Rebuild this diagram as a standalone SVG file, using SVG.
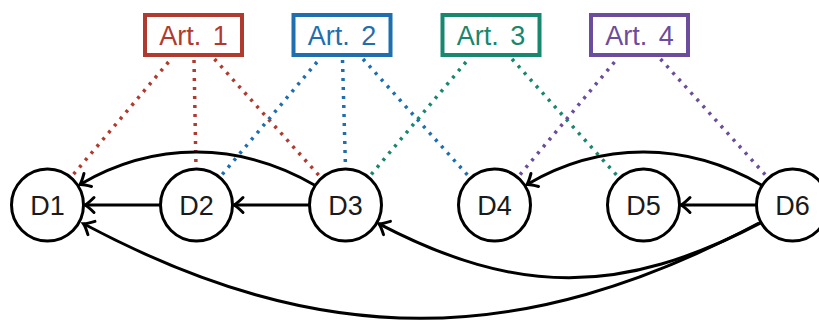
<svg xmlns="http://www.w3.org/2000/svg" width="819" height="320" viewBox="0 0 819 320">
<style>
.node circle{fill:#fff;stroke:#000;stroke-width:3}
.node text{font-family:"Liberation Sans",Arial,sans-serif;font-size:27px;fill:#1a1a1a;text-anchor:middle}
.art rect{fill:#fff;stroke-width:4}
.art text{font-family:"Liberation Sans",Arial,sans-serif;font-size:27px;text-anchor:middle;word-spacing:4px}
.dot{fill:none;stroke-width:3.5;stroke-dasharray:3 6}
.arr{fill:none;stroke:#000;stroke-width:3;marker-end:url(#ah)}
.red{stroke:#b03a2e}.blue{stroke:#1f6eaf}.teal{stroke:#17876d}.purple{stroke:#6c4c9c}
</style>
<defs>
<marker id="ah" markerUnits="userSpaceOnUse" markerWidth="20" markerHeight="20" viewBox="-12 -10 14 20" refX="0" refY="0" orient="auto" overflow="visible">
<path d="M-9,-7.5 Q-3,-1.5 0,0 Q-3,1.5 -9,7.5" fill="none" stroke="#000" stroke-width="3" stroke-linecap="round"/>
</marker>
</defs>
<g id="connectors">
<line class="dot red" x1="168.5" y1="62" x2="71.4" y2="176.8"/>
<line class="dot red" x1="194" y1="60" x2="196" y2="168"/>
<line class="dot red" x1="214.5" y1="59" x2="320.8" y2="177.5"/>
<line class="dot blue" x1="317" y1="62" x2="220.3" y2="176.7"/>
<line class="dot blue" x1="342.5" y1="60" x2="345.5" y2="168"/>
<line class="dot blue" x1="363" y1="59" x2="469.7" y2="177.5"/>
<line class="dot teal" x1="466" y1="62" x2="369.3" y2="176.7"/>
<line class="dot teal" x1="512" y1="59" x2="618.7" y2="177.5"/>
<line class="dot purple" x1="614.5" y1="62" x2="518.3" y2="176.7"/>
<line class="dot purple" x1="660.5" y1="59" x2="767.7" y2="177.5"/>
<path class="arr" d="M160,205 L85,205"/>
<path class="arr" d="M309,205 L234,205"/>
<path class="arr" d="M756,205 L681,205"/>
<path class="arr" d="M314.8,185.2 C238.8,141.2 154.2,141.2 80,184.5"/>
<path class="arr" d="M761.8,185.2 C685.8,141.2 601.2,141.2 527,184.5"/>
<path class="arr" d="M760.7,222.9 C620.7,296 517.3,296 379,223.8"/>
<path class="arr" d="M759,223 C520,350 320.7,350 83.5,223.8"/>
</g>
<g id="art1" class="art"><rect class="red" x="145" y="15" width="97" height="40"/><text x="193.5" y="45" fill="#b03a2e">Art. 1</text></g>
<g id="art2" class="art"><rect class="blue" x="293.5" y="15" width="97" height="40"/><text x="342" y="45" fill="#1f6eaf">Art. 2</text></g>
<g id="art3" class="art"><rect class="teal" x="442.5" y="15" width="97" height="40"/><text x="491" y="45" fill="#17876d">Art. 3</text></g>
<g id="art4" class="art"><rect class="purple" x="591" y="15" width="97" height="40"/><text x="639.5" y="45" fill="#6c4c9c">Art. 4</text></g>
<g id="D1" class="node"><circle cx="47.5" cy="205" r="36"/><text x="47.5" y="214.5">D1</text></g>
<g id="D2" class="node"><circle cx="196.5" cy="205" r="36"/><text x="196.5" y="214.5">D2</text></g>
<g id="D3" class="node"><circle cx="345.5" cy="205" r="36"/><text x="345.5" y="214.5">D3</text></g>
<g id="D4" class="node"><circle cx="494.5" cy="205" r="36"/><text x="494.5" y="214.5">D4</text></g>
<g id="D5" class="node"><circle cx="643.5" cy="205" r="36"/><text x="643.5" y="214.5">D5</text></g>
<g id="D6" class="node"><circle cx="792.5" cy="205" r="36"/><text x="792.5" y="214.5">D6</text></g>
</svg>
